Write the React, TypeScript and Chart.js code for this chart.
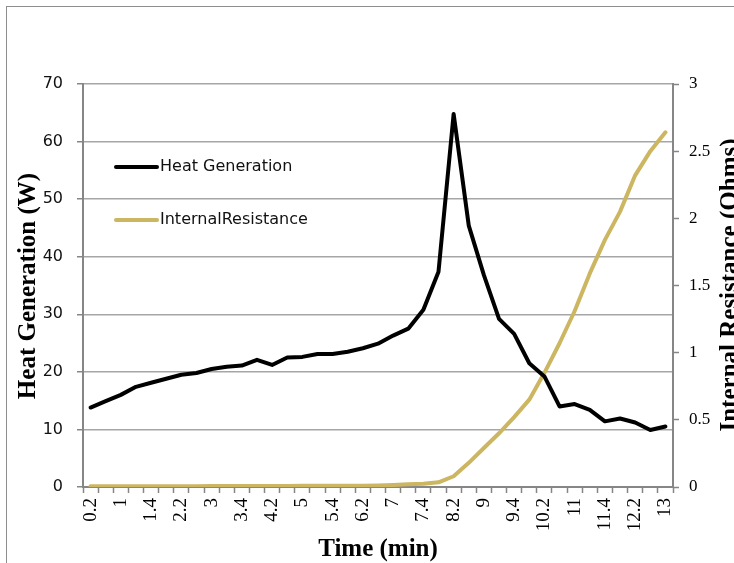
import React, { useEffect, useRef } from "react";
import { Chart, registerables } from "chart.js";

Chart.register(...registerables);

const timeLabels = [
  "0.2", "0.6", "1", "1.2", "1.4", "1.8", "2.2", "2.6", "3", "3.2",
  "3.4", "3.8", "4.2", "4.6", "5", "5.2", "5.4", "5.8", "6.2", "6.6",
  "7", "7.2", "7.4", "7.8", "8.2", "8.6", "9", "9.2", "9.4", "9.8",
  "10.2", "10.6", "11", "11.2", "11.4", "11.8", "12.2", "12.6", "13",
];

const heatGeneration = [
  13.8, 14.9, 16.0, 17.4, 18.1, 18.8, 19.5, 19.8, 20.5, 20.9,
  21.1, 22.1, 21.2, 22.5, 22.6, 23.1, 23.1, 23.5, 24.1, 24.9,
  26.3, 27.5, 30.8, 37.4, 64.8, 45.4, 36.8, 29.2, 26.6, 21.5,
  19.2, 14.0, 14.4, 13.4, 11.4, 11.9, 11.2, 9.9, 10.5,
];

const internalResistance = [
  0.005, 0.005, 0.005, 0.005, 0.005, 0.006, 0.006, 0.006, 0.007, 0.007,
  0.008, 0.008, 0.008, 0.008, 0.009, 0.009, 0.009, 0.01, 0.01, 0.012,
  0.015, 0.02, 0.025, 0.035, 0.08, 0.18, 0.29, 0.40, 0.52, 0.65,
  0.85, 1.07, 1.31, 1.59, 1.84, 2.05, 2.32, 2.50, 2.64,
];

const heatTicks = [0, 10, 20, 30, 40, 50, 60, 70];
const resistanceTicks = [0, 0.5, 1, 1.5, 2, 2.5, 3];

const BLACK = "#000000";
const GOLD = "#CDB661";
const GRID = "#a6a6a6";
const AXIS = "#868686";

const decorPlugin = {
  id: "decor",
  beforeDraw(chart: any) {
    const ctx = chart.ctx;
    ctx.save();
    ctx.strokeStyle = "#8e8e8e";
    ctx.lineWidth = 1;
    ctx.strokeRect(6.5, 6.5, 900, 900);
    ctx.restore();
  },
  afterDraw(chart: any) {
    const ctx = chart.ctx;
    ctx.save();
    const items = [
      { text: "Heat Generation", color: BLACK, y: 167 },
      { text: "InternalResistance", color: GOLD, y: 220 },
    ];
    ctx.lineCap = "round";
    for (const it of items) {
      ctx.strokeStyle = it.color;
      ctx.lineWidth = 4;
      ctx.beginPath();
      ctx.moveTo(116, it.y);
      ctx.lineTo(157, it.y);
      ctx.stroke();
      ctx.fillStyle = "#111";
      ctx.font = '16px "DejaVu Sans"';
      ctx.textAlign = "left";
      ctx.textBaseline = "middle";
      ctx.fillText(it.text, 160, it.y);
    }
    ctx.fillStyle = "#000";
    ctx.font = 'bold 25px "Liberation Serif"';
    ctx.textAlign = "center";
    ctx.textBaseline = "alphabetic";
    ctx.fillText("Time (min)", 378, 556);

    ctx.save();
    ctx.translate(35, 286);
    ctx.rotate(-Math.PI / 2);
    ctx.fillText("Heat Generation (W)", 0, 0);
    ctx.restore();

    ctx.save();
    ctx.translate(737, 285);
    ctx.rotate(-Math.PI / 2);
    ctx.fillText("Internal Resistance (Ohms)", 0, 0);
    ctx.restore();

    ctx.restore();
  },
};

export default function App() {
  const ref = useRef<HTMLCanvasElement | null>(null);

  useEffect(() => {
    if (!ref.current) return;
    const chart = new Chart(ref.current, {
      type: "line",
      data: {
        labels: timeLabels,
        datasets: [
          {
            label: "Heat Generation",
            data: heatGeneration,
            borderColor: BLACK,
            backgroundColor: BLACK,
            borderWidth: 4,
            pointRadius: 0,
            tension: 0,
            borderJoinStyle: "round",
            borderCapStyle: "round",
            yAxisID: "y",
          },
          {
            label: "InternalResistance",
            data: internalResistance,
            borderColor: GOLD,
            backgroundColor: GOLD,
            borderWidth: 4,
            pointRadius: 0,
            tension: 0,
            borderJoinStyle: "round",
            borderCapStyle: "round",
            yAxisID: "y1",
          },
        ],
      },
      options: {
        responsive: false,
        animation: false,
        devicePixelRatio: 1,
        layout: { padding: { top: 84, left: 0, right: 0, bottom: 0 } },
        plugins: {
          legend: { display: false },
          tooltip: { enabled: false },
        },
        scales: {
          x: {
            type: "category",
            offset: true,
            afterFit: (s: any) => {
              s.height = 76;
            },
            grid: {
              offset: true,
              drawOnChartArea: false,
              drawTicks: true,
              tickLength: 6,
              tickColor: AXIS,
              tickWidth: 1.5,
            },
            border: { display: true, color: AXIS, width: 2 },
            ticks: {
              autoSkip: false,
              minRotation: 90,
              maxRotation: 90,
              padding: 5,
              color: "#000",
              font: { family: '"Liberation Serif"', size: 19 },
              callback: (_v: any, i: number) => (i % 2 === 0 ? timeLabels[i] : ""),
            },
          },
          y: {
            type: "linear",
            position: "left",
            min: 0,
            max: 70,
            afterFit: (s: any) => {
              s.width = 83;
            },
            afterBuildTicks: (s: any) => {
              s.ticks = heatTicks.map((v) => ({ value: v }));
            },
            grid: {
              color: GRID,
              lineWidth: 1.5,
              tickLength: 6,
              tickColor: AXIS,
              tickWidth: 1.5,
            },
            border: { display: true, color: AXIS, width: 2 },
            ticks: {
              padding: 14,
              color: "#111",
              font: { family: '"DejaVu Sans"', size: 16 },
              callback: (v: any) => String(v),
            },
          },
          y1: {
            type: "linear",
            position: "right",
            min: 0,
            max: 3,
            afterFit: (s: any) => {
              s.width = 61;
            },
            afterBuildTicks: (s: any) => {
              s.ticks = resistanceTicks.map((v) => ({ value: v }));
            },
            grid: {
              drawOnChartArea: false,
              tickLength: 6,
              tickColor: AXIS,
              tickWidth: 1.5,
            },
            border: { display: true, color: AXIS, width: 2 },
            ticks: {
              padding: 10,
              color: "#000",
              font: { family: '"Liberation Serif"', size: 17 },
              callback: (v: any) => String(v),
            },
          },
        },
      },
      plugins: [decorPlugin],
    } as any);
    return () => chart.destroy();
  }, []);

  return (
    <div
      style={{
        position: "fixed",
        left: 0,
        top: 0,
        width: 734,
        height: 563,
        background: "#fff",
        overflow: "hidden",
      }}
    >
      <canvas ref={ref} width={734} height={563} style={{ display: "block" }} />
    </div>
  );
}
